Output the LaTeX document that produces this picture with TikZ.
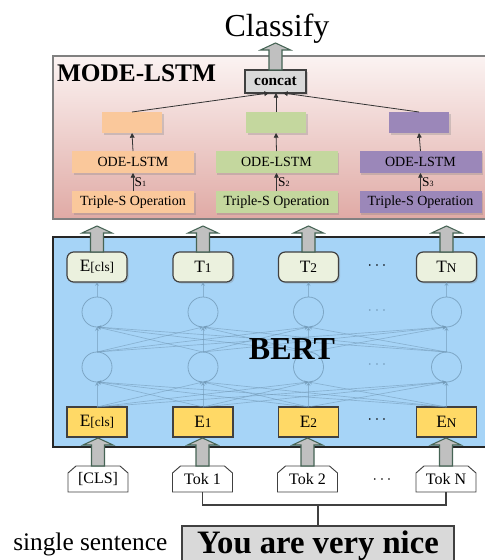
\documentclass[tikz,border=0pt]{standalone}
\usepackage{fontspec}
\setmainfont{Liberation Serif}
\usetikzlibrary{arrows.meta,shadows,calc}
\definecolor{modetop}{RGB}{251,243,242}
\definecolor{modebot}{RGB}{224,170,165}
\definecolor{modeborder}{RGB}{128,128,128}
\definecolor{oran}{RGB}{250,200,155}
\definecolor{gree}{RGB}{196,215,158}
\definecolor{purp}{RGB}{155,135,185}
\definecolor{cgray}{RGB}{217,217,217}
\definecolor{dgray}{RGB}{64,64,64}
\definecolor{bertblue}{RGB}{166,212,247}
\definecolor{tfill}{RGB}{235,241,222}
\definecolor{yel}{RGB}{255,217,102}
\definecolor{nline}{RGB}{115,155,185}
\definecolor{agray}{RGB}{192,192,192}
\definecolor{agreen}{RGB}{70,100,85}
\newcommand\grayarrow[2]{%
  \draw[fatarr] #1 ++(-6.5,0) -- ++(0,{-(#2-7)}) -- ++(-8.5,0) -- ++(15,-7) -- ++(15,7) -- ++(-8.5,0) -- ++(0,{#2-7}) -- cycle;}
\newcommand\tokbox[3]{%
  \node[box, wh={60}{26}] (#1) at (#2,479) {};
  \draw[tokline] (#1.south west) -- ++(0,-19) -- ++(8,-7) -- ($(#1.north east)+(-8,0)$) -- ++(8,7) -- (#1.south east) -- cycle;
  \node[box, fs=12] (#1t) at (#1) {#3};}
\begin{document}
\begin{tikzpicture}[x=0.75pt,y=-0.75pt,
  wh/.style 2 args={minimum width=#1*0.75pt,minimum height=#2*0.75pt},
  fs/.style={font=\fontsize{#1}{#1}\selectfont},
  box/.style={inner sep=0pt,outer sep=0pt,align=center},
  shad/.style={drop shadow={opacity=0.3,shadow xshift=1.2pt,shadow yshift=-1.2pt}},
  modecol/.style={box,fill=#1,shad},
  tnode/.style={box,wh={60}{30},draw=dgray,line width=0.9pt,rounded corners=5pt,fill=tfill,shad},
  enode/.style={box,wh={60}{30},draw=dgray,line width=0.8pt,fill=yel},
  neuron/.style={circle,draw=nline,line width=0.6pt,minimum size=30*0.75pt,inner sep=0pt,outer sep=0pt,opacity=0.8},
  fc/.style={draw=nline,line width=0.5pt,opacity=0.6,-{Stealth[length=3pt,width=3pt]}},
  sarr/.style={-{Triangle[length=3.5pt,width=3.5pt]},line width=0.6pt,draw=black!80},
  fatarr/.style={fill=agray,draw=agreen,line width=0.8pt,line join=miter},
  tokline/.style={fill=white,draw=dgray,line width=0.7pt},
  dots/.style={fs=12}]
\useasboundingbox (0,0) rectangle (485,560);
\clip (0,0) rectangle (485,560);

% ---------- MODE-LSTM ----------
\node[box,wh={434}{163},top color=modetop,bottom color=modebot,draw=modeborder,line width=1.5pt] (mode) at (270,137.5) {};
\node[box,anchor=base west,font=\fontsize{19}{19}\selectfont\bfseries] (modelabel) at (57,82) {MODE-LSTM};
\node[anchor=base,inner sep=0pt,font=\fontsize{24}{24}\selectfont] (classify) at (277,37) {Classify};
\node[box,wh={61}{23},fill=cgray,draw=dgray,line width=0.8pt,shad,font=\fontsize{11.5}{12}\selectfont\bfseries] (concat) at (275.5,81.5) {concat};
\grayarrow{(concat.north)}{27}

\foreach \n/\c/\x in {a/oran/132,b/gree/276,c/purp/419}{
  \node[modecol=\c,wh={60}{21}] (h\n) at (\x,122.5) {};
}
\foreach \n/\c/\x/\s in {a/oran/133/1,b/gree/276.5/2,c/purp/420.5/3}{
  \node[modecol=\c,wh={122}{22},fs=10.5] (ode\n) at (\x,162) {ODE-LSTM};
  \node[modecol=\c,wh={122}{22},fs=10.5] (tri\n) at (\x,202) {Triple-S Operation};
  \draw[sarr] (tri\n.north) -- (ode\n.south) node[midway,right=1pt,inner sep=0pt,font=\fontsize{10}{10}\selectfont] (s\n) {S{\fontsize{6}{6}\selectfont\s}};
  \draw[sarr] (ode\n.north) -- (h\n.south);
}
\draw[sarr] (ha.north) -- ($(concat.south)+(-6.5,0)$);
\draw[sarr] (hb.north) -- (hb.north |- concat.south);
\draw[sarr] (hc.north) -- ($(concat.south)+(7.5,0)$);

% ---------- BERT ----------
\node[box,wh={434}{210},fill=bertblue,draw=black!85,line width=1.2pt] (bert) at (270,342) {};

\foreach \n/\x in {0/97,1/203,2/308.5,N/446.5}{
  \node[neuron] (m\n) at (\x,367) {};
  \node[neuron] (k\n) at (\x,312) {};
}
\node[enode] (e0) at (97,422) {{\fontsize{13}{13}\selectfont E}{\fontsize{10}{10}\selectfont[cls]}};
\node[enode] (e1) at (203,422) {{\fontsize{13}{13}\selectfont E}{\fontsize{10}{10}\selectfont 1}};
\node[enode] (e2) at (308.5,422) {{\fontsize{13}{13}\selectfont E}{\fontsize{10}{10}\selectfont 2}};
\node[enode] (eN) at (446.5,422) {{\fontsize{13}{13}\selectfont E}{\fontsize{10}{10}\selectfont N}};
\node[tnode] (t0) at (97,267) {{\fontsize{13}{13}\selectfont E}{\fontsize{10}{10}\selectfont[cls]}};
\node[tnode] (t1) at (203,267) {{\fontsize{13}{13}\selectfont T}{\fontsize{10}{10}\selectfont 1}};
\node[tnode] (t2) at (308.5,267) {{\fontsize{13}{13}\selectfont T}{\fontsize{10}{10}\selectfont 2}};
\node[tnode] (tN) at (446.5,267) {{\fontsize{13}{13}\selectfont T}{\fontsize{10}{10}\selectfont N}};

\foreach \a in {0,1,2,N}{
  \foreach \b in {0,1,2,N}{
    \draw[fc] (e\a.north) -- (m\b.south);
    \draw[fc] (m\a.north) -- (k\b.south);
  }
  \draw[fc] (k\a.north) -- (t\a.south);
}
\node[anchor=base,inner sep=0pt,font=\fontsize{24}{24}\selectfont\bfseries] (bertlabel) at (292,359) {BERT};
\node[dots] (d1) at (377,266) {$\cdots$};
\node[dots,text=nline] (d2) at (377,311) {$\cdots$};
\node[dots,text=nline] (d3) at (377,365) {$\cdots$};
\node[dots] (d4) at (377,420) {$\cdots$};

\foreach \n in {0,1,2,N}{ \grayarrow{(t\n.north)}{26} }

% ---------- tokens ----------
\tokbox{c0}{98}{[CLS]}
\tokbox{c1}{202.5}{Tok 1}
\tokbox{c2}{307.5}{Tok 2}
\tokbox{cN}{446}{Tok N}
\node[dots] (d5) at (382,480) {$\cdots$};
\foreach \n in {0,1,2,N}{ \grayarrow{(c\n.north)}{28} }

% ---------- sentence ----------
\node[box,wh={272}{36},fill=cgray,draw=dgray,line width=1pt] (sent) at (318,544) {};
\node[anchor=base,inner sep=0pt,font=\fontsize{24.5}{25}\selectfont\bfseries] (senttext) at (318,553) {You are very nice};
\node[anchor=base west,inner sep=0pt,font=\fontsize{19}{19}\selectfont] (single) at (13,550) {single sentence};
\coordinate (mid) at (318,505);
\draw[draw=dgray,line width=0.8pt] (c1.south) |- (mid) -| (cN.south);
\draw[draw=dgray,line width=0.8pt] (mid) -- (mid |- sent.north);
\end{tikzpicture}
\end{document}
